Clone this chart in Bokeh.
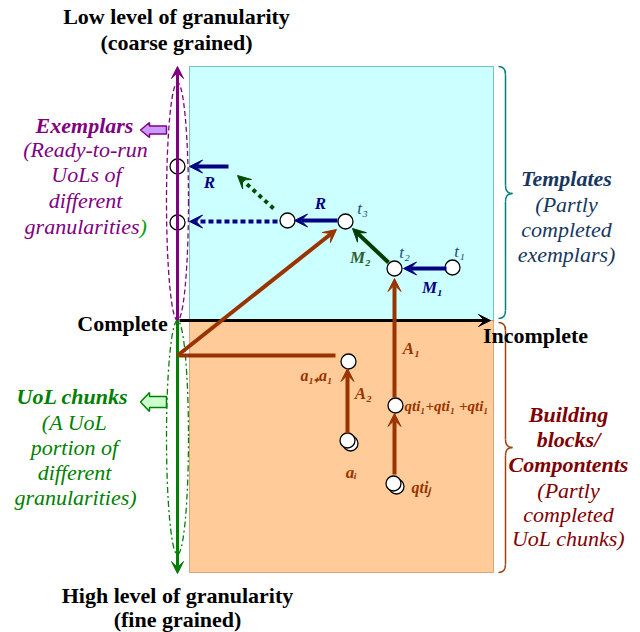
from bokeh.plotting import figure
from bokeh.models import Range1d, Arrow, VeeHead
from bokeh.embed import file_html
from bokeh.resources import INLINE
from bokeh.core.properties import value

FONT = value("Liberation Serif")

# ---------------- data (diagram coordinates, pixel units) ----------------
# shaded regions: left, right, top, bottom
region_names = ["templates", "components"]
region_left = [189, 189]
region_right = [493, 493]
region_top = [66, 320]
region_bottom = [320, 572]
region_fill = ["#ccffff", "#ffcc99"]
region_line = ["#008b8b", "#c0602a"]

# dashed ellipses around the granularity axis
ell_x = [177, 177]
ell_y = [201, 437]
ell_w = [22, 22]
ell_h = [238, 234]

# nodes (white circles)
node_x = [177, 177, 287, 345, 394, 452, 348, 395]
node_y = [166, 222, 220, 221, 268, 267, 361, 405]
# doubled nodes
dnode_x = [347, 393]
dnode_y = [440, 483]

# arrows: x_start, y_start, x_end, y_end
navy_x0 = [228, 337, 446]
navy_y0 = [166, 220, 268]
navy_x1 = [189, 294, 403]
navy_y1 = [166, 220, 268]

navy_dot_x0 = [277]
navy_dot_y0 = [221]
navy_dot_x1 = [189]
navy_dot_y1 = [221]

green_dot_x0 = [273]
green_dot_y0 = [208]
green_dot_x1 = [237]
green_dot_y1 = [175]

m2_x0 = [388]
m2_y0 = [262]
m2_x1 = [352]
m2_y1 = [228]

brown_x0 = [177, 394, 347, 394]
brown_y0 = [355, 397, 433, 474]
brown_x1 = [336, 394, 347, 394]
brown_y1 = [229, 278, 368, 413]

brown_line_x = [177, 335]
brown_line_y = [355, 355]

axis_h = (179, 320, 490, 320)
axis_up = (177, 320, 177, 66)
axis_down = (177, 320, 177, 573)

# block arrows (polygons)
exemplar_arrow_x = [140, 149, 149, 166, 166, 149, 149]
exemplar_arrow_y = [129.5, 122, 125.5, 125.5, 133.5, 133.5, 137]
chunk_arrow_x = [140, 149, 149, 166, 166, 149, 149]
chunk_arrow_y = [401.5, 392, 396, 396, 407, 407, 411]

# braces: top, middle (tip), bottom
brace_top = [66, 322]
brace_mid = [193, 447]
brace_bot = [318, 572]
brace_color = ["#008080", "#a0400a"]

# ---------------- figure ----------------
p = figure(width=640, height=632, x_range=Range1d(0, 640), y_range=Range1d(632, 0),
           output_backend="svg", toolbar_location=None, min_border=0,
           x_axis_location=None, y_axis_location=None)
p.grid.visible = False
p.outline_line_color = None
p.background_fill_color = "white"
p.border_fill_color = "white"

p.quad(left=region_left, right=region_right, top=region_top, bottom=region_bottom,
       fill_color=region_fill, line_color=region_line, line_dash="1 1", line_width=1)

p.ellipse(x=[ell_x[0]], y=[ell_y[0]], width=[ell_w[0]], height=[ell_h[0]],
          fill_color=None, line_color="#800080", line_dash="5 3", line_width=1.3)
p.ellipse(x=[ell_x[1]], y=[ell_y[1]], width=[ell_w[1]], height=[ell_h[1]],
          fill_color=None, line_color="#008000", line_dash="6 3 2 3", line_width=1.3)


def arrow(x0, y0, x1, y1, color, width, size=13, dash="solid"):
    p.add_layout(Arrow(end=VeeHead(size=size, fill_color=color, line_color=color, line_width=1),
                       x_start=x0, y_start=y0, x_end=x1, y_end=y1,
                       line_color=color, line_width=width, line_dash=dash))


arrow(*axis_up, "#800080", 3, 12)
arrow(*axis_down, "#008000", 3, 12)
arrow(*axis_h, "black", 3, 12)

p.line(brown_line_x, brown_line_y, line_color="#993300", line_width=4)
for i in range(len(brown_x0)):
    arrow(brown_x0[i], brown_y0[i], brown_x1[i], brown_y1[i], "#993300", 4)
for i in range(len(navy_x0)):
    arrow(navy_x0[i], navy_y0[i], navy_x1[i], navy_y1[i], "#000080", 4)
arrow(navy_dot_x0[0], navy_dot_y0[0], navy_dot_x1[0], navy_dot_y1[0], "#000080", 4, 13, "5 3")
arrow(green_dot_x0[0], green_dot_y0[0], green_dot_x1[0], green_dot_y1[0], "#004d00", 4, 13, "4 4")
arrow(m2_x0[0], m2_y0[0], m2_x1[0], m2_y1[0], "#003d00", 4)

# nodes
p.scatter([x + 3 for x in dnode_x], [y + 3 for y in dnode_y], size=15, fill_color="white",
          line_color="black", line_width=1.3)
p.scatter(dnode_x, dnode_y, size=15, fill_color="white", line_color="black", line_width=1.3)
p.scatter(node_x, node_y, size=15, fill_color="white", line_color="black", line_width=1.3)

# block arrows
p.patch(exemplar_arrow_x, exemplar_arrow_y, fill_color="#cc99ff", line_color="#800080", line_width=1.5)
p.patch(chunk_arrow_x, chunk_arrow_y, fill_color="#ccffcc", line_color="#008000", line_width=1.5)

# braces
for i in range(2):
    t, m, b, c = brace_top[i], brace_mid[i], brace_bot[i], brace_color[i]
    e, s, tip, r = 498, 505, 512, 8
    p.quadratic(x0=[e, s, tip, s], y0=[t, m - r, m, b - r],
                x1=[s, tip, s, e], y1=[t + r, m, m + r, b],
                cx=[s, s, s, s], cy=[t, m, m, b], line_color=c, line_width=1.5)
    p.segment(x0=[s, s], y0=[t + r, m + r], x1=[s, s], y1=[m - r, b - r], line_color=c, line_width=1.5)


def txt(x, y, s, color="black", size="22px", style="normal", align="center", baseline="middle"):
    p.text(x=[x], y=[y], text=[s], text_font=FONT, text_font_size=size, text_font_style=style,
           text_color=color, text_align=align, text_baseline=baseline)


# titles
txt(176, 16, "Low level of granularity", style="bold")
txt(176, 42, "(coarse grained)", style="bold")
txt(177, 595, "High level of granularity", style="bold")
txt(177, 619, "(fine grained)", style="bold")
txt(122, 323, "Complete", style="bold")
txt(535, 335, "Incomplete", style="bold")

# exemplars
purple = "#800080"
txt(84, 125, "Exemplars", purple, style="bold italic")
txt(85, 149, "(Ready-to-run", purple, style="italic")
txt(86, 174, "UoLs of", purple, style="italic")
txt(85, 200, "different", purple, style="italic")
txt(139, 226, "granularities", purple, style="italic", align="right")
txt(139, 226, ")", "#00a000", style="italic", align="left")

# UoL chunks
green = "#008000"
txt(72, 396, "UoL chunks", green, style="bold italic")
txt(74, 422, "(A UoL", green, style="italic")
txt(74, 447, "portion of", green, style="italic")
txt(74, 472, "different", green, style="italic")
txt(75, 497, "granularities)", green, style="italic")

# templates
tcol = "#17375e"
txt(566, 178, "Templates", tcol, style="bold italic")
txt(566, 204, "(Partly", tcol, style="italic")
txt(566, 229, "completed", tcol, style="italic")
txt(566, 254, "exemplars)", tcol, style="italic")

# building blocks
bcol = "#800000"
txt(568, 414, "Building", bcol, style="bold italic")
txt(568, 439, "blocks/", bcol, style="bold italic")
txt(568, 464, "Compontents", bcol, style="bold italic")
txt(568, 490, "(Partly", bcol, style="italic")
txt(568, 514, "completed", bcol, style="italic")
txt(568, 538, "UoL chunks)", bcol, style="italic")

# small labels
navy = "#000080"
txt(209, 182, "R", navy, "17px", "bold italic")
txt(320, 203, "R", navy, "17px", "bold italic")
txt(432, 287, "M\u2081", navy, "17px", "bold italic")
txt(360, 257, "M\u2082", "#2e5e2e", "17px", "bold italic")
tlab = "#1f497d"
txt(362, 208, "t\u2083", tlab, "17px", "italic")
txt(404, 252, "t\u2082", tlab, "17px", "italic")
txt(459, 251, "t\u2081", tlab, "17px", "italic")
brown = "#993300"
txt(411, 348, "A\u2081", brown, "17px", "bold italic")
txt(363, 393, "A\u2082", brown, "17px", "bold italic")
txt(316, 375, "a\u2081\u208aa\u2081", brown, "16px", "bold italic")
txt(351, 472, "a\u1d62", brown, "17px", "bold italic")
txt(404, 405, "qti\u2081+qti\u2081 +qti\u2081", brown, "15px", "bold italic", "left")
txt(411, 487, "qti\u2c7c", brown, "16px", "bold italic", "left")

open("out.html", "w").write(file_html(p, INLINE))
